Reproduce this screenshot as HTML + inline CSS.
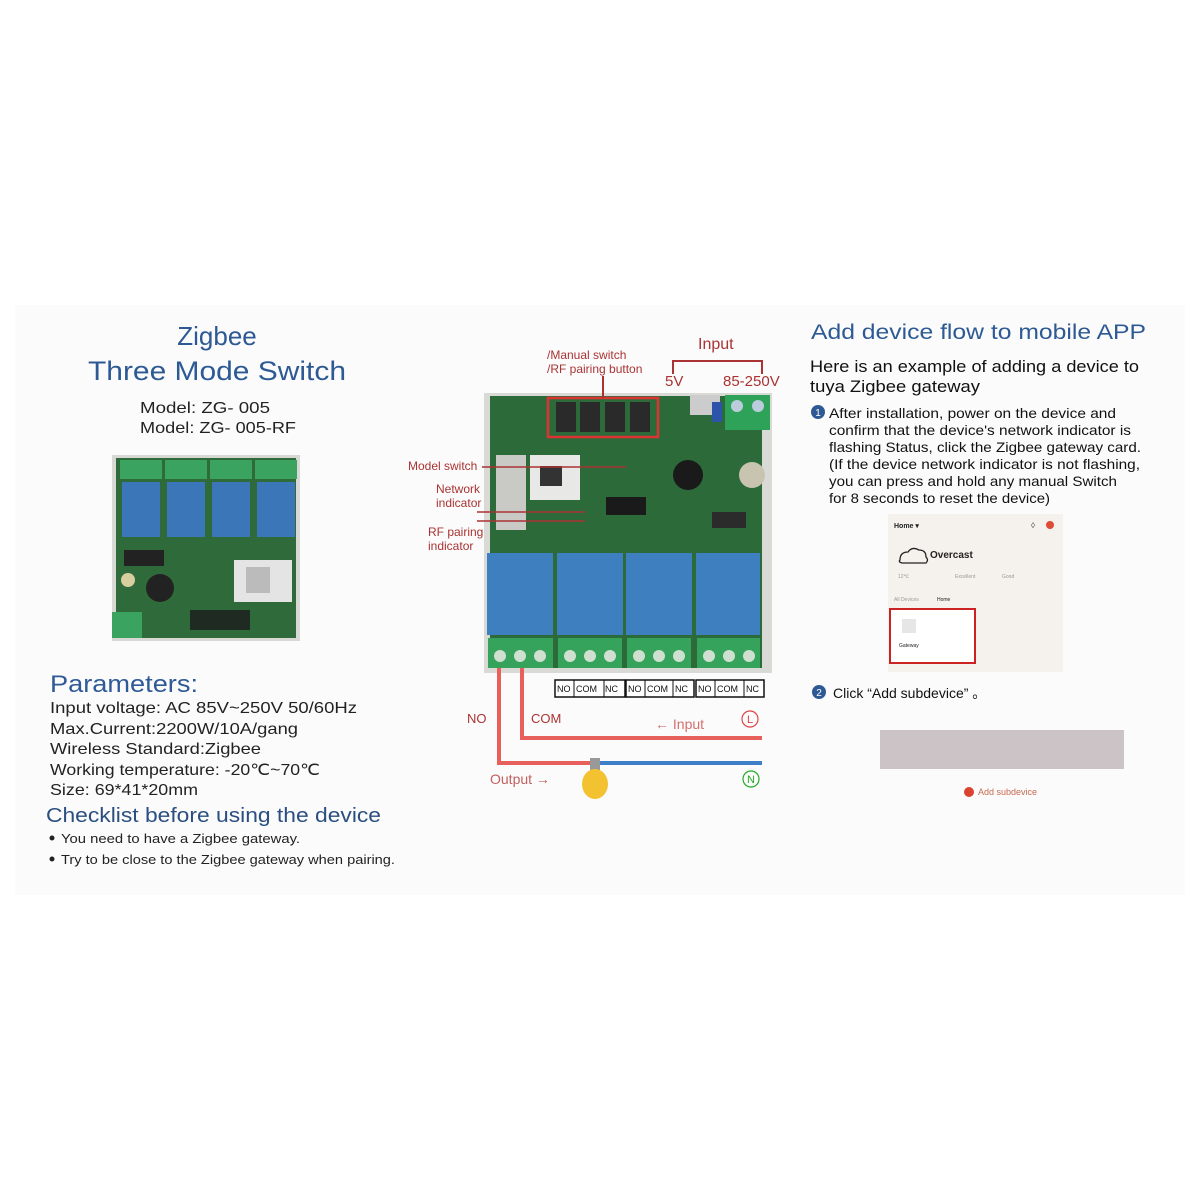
<!DOCTYPE html>
<html><head><meta charset="utf-8"><style>
html,body{margin:0;padding:0;background:#fff}
svg{display:block}
text{font-family:"Liberation Sans",sans-serif}
</style></head><body>
<svg width="1200" height="1200" viewBox="0 0 1200 1200" xmlns="http://www.w3.org/2000/svg">
<rect width="1200" height="1200" fill="#fff"/>
<rect x="15" y="305" width="1170" height="590" fill="#fbfbfb"/>

<!-- LEFT TEXT -->
<g fill="#2d5a94">
<text x="217" y="345" font-size="26" text-anchor="middle">Zigbee</text>
<text x="88" y="380" font-size="27" textLength="258" lengthAdjust="spacingAndGlyphs">Three Mode Switch</text>
</g>
<g fill="#222" font-size="16">
<text x="140" y="413" textLength="130" lengthAdjust="spacingAndGlyphs">Model:  ZG- 005</text>
<text x="140" y="433" textLength="156" lengthAdjust="spacingAndGlyphs">Model:  ZG- 005-RF</text>
</g>

<!-- small board -->
<g>
<rect x="112" y="455" width="188" height="186" fill="#d8d8d4"/>
<rect x="116" y="458" width="180" height="180" fill="#2f6b3a"/>
<g fill="#3aa360">
<rect x="120" y="460" width="42" height="19"/><rect x="165" y="460" width="42" height="19"/><rect x="210" y="460" width="42" height="19"/><rect x="255" y="460" width="42" height="19"/>
</g>
<g fill="#3b77b8">
<rect x="122" y="482" width="38" height="55"/><rect x="167" y="482" width="38" height="55"/><rect x="212" y="482" width="38" height="55"/><rect x="257" y="482" width="38" height="55"/>
</g>
<rect x="234" y="560" width="58" height="42" fill="#e4e4e4"/>
<rect x="246" y="567" width="24" height="26" fill="#bbb"/>
<circle cx="160" cy="588" r="14" fill="#222"/>
<rect x="124" y="550" width="40" height="16" fill="#222"/>
<rect x="112" y="612" width="30" height="26" fill="#3aa360"/>
<rect x="190" y="610" width="60" height="20" fill="#1f2a22"/>
<circle cx="128" cy="580" r="7" fill="#d8cfa0"/>
</g>

<g fill="#2f5a97"><text x="50" y="692" font-size="24" textLength="148" lengthAdjust="spacingAndGlyphs">Parameters:</text></g>
<g fill="#222" font-size="16">
<text x="50" y="713" textLength="307" lengthAdjust="spacingAndGlyphs">Input voltage:  AC 85V~250V  50/60Hz</text>
<text x="50" y="734" textLength="248" lengthAdjust="spacingAndGlyphs">Max.Current:2200W/10A/gang</text>
<text x="50" y="754" textLength="211" lengthAdjust="spacingAndGlyphs">Wireless Standard:Zigbee</text>
<text x="50" y="775" textLength="270" lengthAdjust="spacingAndGlyphs">Working temperature: -20℃~70℃</text>
<text x="50" y="795" textLength="148" lengthAdjust="spacingAndGlyphs">Size: 69*41*20mm</text>
</g>
<text x="46" y="822" font-size="20" fill="#2b4f80" textLength="335" lengthAdjust="spacingAndGlyphs">Checklist before using the device</text>
<g fill="#222" font-size="13">
<circle cx="52" cy="838" r="2.5"/><circle cx="52" cy="859" r="2.5"/>
<text x="61" y="843" textLength="239" lengthAdjust="spacingAndGlyphs">You need to have a Zigbee gateway.</text>
<text x="61" y="864" textLength="334" lengthAdjust="spacingAndGlyphs">Try to be close to the Zigbee gateway when pairing.</text>
</g>

<!-- CENTER BOARD -->
<g>
<rect x="484" y="393" width="288" height="280" fill="#d9d9d6"/>
<rect x="490" y="396" width="272" height="272" fill="#2d6a3a"/>
<rect x="496" y="455" width="30" height="75" fill="#c9c9c6"/>
<rect x="530" y="455" width="50" height="45" fill="#e8e8e6"/>
<rect x="540" y="466" width="22" height="20" fill="#333"/>
<rect x="725" y="395" width="45" height="35" fill="#2fa25a"/>
<circle cx="737" cy="406" r="6" fill="#bcd"/><circle cx="758" cy="406" r="6" fill="#bcd"/>
<rect x="690" y="395" width="30" height="20" fill="#ccc"/>
<rect x="712" y="402" width="10" height="20" fill="#2c54a8"/>
<circle cx="688" cy="475" r="15" fill="#1a1a1a"/>
<circle cx="752" cy="475" r="13" fill="#c8c4b0"/>
<rect x="606" y="497" width="40" height="18" fill="#1a1a1a"/>
<rect x="712" y="512" width="34" height="16" fill="#2b2b2b"/>
<g fill="#2a2a2a"><rect x="556" y="402" width="20" height="30"/><rect x="580" y="402" width="20" height="30"/><rect x="605" y="402" width="20" height="30"/><rect x="630" y="402" width="20" height="30"/></g>
<g fill="#3d7fbf">
<rect x="487" y="553" width="66" height="82"/><rect x="557" y="553" width="66" height="82"/><rect x="626" y="553" width="66" height="82"/><rect x="696" y="553" width="64" height="82"/>
</g>
<g fill="#36a35c">
<rect x="488" y="638" width="65" height="30"/><rect x="558" y="638" width="64" height="30"/><rect x="627" y="638" width="64" height="30"/><rect x="697" y="638" width="63" height="30"/>
</g>
<g fill="#cfe0d0">
<circle cx="500" cy="656" r="6"/><circle cx="520" cy="656" r="6"/><circle cx="540" cy="656" r="6"/>
<circle cx="570" cy="656" r="6"/><circle cx="590" cy="656" r="6"/><circle cx="610" cy="656" r="6"/>
<circle cx="639" cy="656" r="6"/><circle cx="659" cy="656" r="6"/><circle cx="679" cy="656" r="6"/>
<circle cx="709" cy="656" r="6"/><circle cx="729" cy="656" r="6"/><circle cx="749" cy="656" r="6"/>
</g>
<rect x="548" y="398" width="110" height="39" fill="none" stroke="#d33" stroke-width="2.5"/>
</g>

<!-- NO/COM/NC labels -->
<g font-size="9" fill="#111" stroke="#111">
<rect x="555" y="680" width="70" height="17" fill="#fff" stroke-width="1.5"/>
<rect x="626" y="680" width="68" height="17" fill="#fff" stroke-width="1.5"/>
<rect x="696" y="680" width="68" height="17" fill="#fff" stroke-width="1.5"/>
<line x1="574" y1="680" x2="574" y2="697"/><line x1="604" y1="680" x2="604" y2="697"/>
<line x1="645" y1="680" x2="645" y2="697"/><line x1="673" y1="680" x2="673" y2="697"/>
<line x1="715" y1="680" x2="715" y2="697"/><line x1="744" y1="680" x2="744" y2="697"/>
<g stroke="none">
<text x="557" y="692">NO</text><text x="576" y="692">COM</text><text x="605" y="692">NC</text>
<text x="628" y="692">NO</text><text x="647" y="692">COM</text><text x="675" y="692">NC</text>
<text x="698" y="692">NO</text><text x="717" y="692">COM</text><text x="746" y="692">NC</text>
</g>
</g>

<!-- wires -->
<polyline points="499,668 499,763 592,763" fill="none" stroke="#e8605c" stroke-width="4"/>
<polyline points="522,668 522,738 762,738" fill="none" stroke="#e8605c" stroke-width="4"/>
<line x1="598" y1="763" x2="762" y2="763" stroke="#3d7fc8" stroke-width="4"/>
<rect x="590" y="758" width="10" height="12" fill="#999"/>
<ellipse cx="595" cy="784" rx="13" ry="15" fill="#f2c230"/>

<!-- center labels -->
<g fill="#a33" font-size="12">
<text x="547" y="359">/Manual switch</text>
<text x="547" y="373">/RF pairing button</text>
<text x="408" y="470">Model switch</text>
<text x="436" y="493">Network</text>
<text x="436" y="507">indicator</text>
<text x="428" y="536">RF pairing</text>
<text x="428" y="550">indicator</text>
</g>
<line x1="603" y1="376" x2="603" y2="398" stroke="#a33" stroke-width="2"/>
<line x1="482" y1="467" x2="626" y2="467" stroke="#a33" stroke-width="1.5"/>
<line x1="477" y1="512" x2="585" y2="512" stroke="#a33" stroke-width="1.5"/>
<line x1="477" y1="521" x2="585" y2="521" stroke="#a33" stroke-width="1.5"/>
<polyline points="673,374 673,361 762,361 762,374" fill="none" stroke="#a33" stroke-width="2"/>
<text x="698" y="349" font-size="16" fill="#a33">Input</text>
<text x="665" y="386" font-size="15" fill="#a33">5V</text>
<text x="723" y="386" font-size="15" fill="#a33">85-250V</text>
<text x="467" y="723" font-size="13" fill="#a33">NO</text>
<text x="531" y="723" font-size="13" fill="#a33">COM</text>
<text x="655" y="729" font-size="14" fill="#d47070">←  Input</text>
<circle cx="750" cy="719" r="8" fill="none" stroke="#d44" stroke-width="1.2"/>
<text x="750" y="723" font-size="11" fill="#d44" text-anchor="middle">L</text>
<text x="490" y="784" font-size="14" fill="#c06060">Output  →</text>
<circle cx="751" cy="779" r="8" fill="none" stroke="#2a2" stroke-width="1.2"/>
<text x="751" y="783" font-size="11" fill="#2a2" text-anchor="middle">N</text>

<!-- RIGHT -->
<text x="811" y="339" font-size="21" fill="#2d5a94" textLength="335" lengthAdjust="spacingAndGlyphs">Add device flow to mobile APP</text>
<g fill="#111" font-size="17">
<text x="810" y="372" textLength="329" lengthAdjust="spacingAndGlyphs">Here is an example of adding a device to</text>
<text x="810" y="392" textLength="170" lengthAdjust="spacingAndGlyphs">tuya Zigbee gateway</text>
</g>
<circle cx="818" cy="412" r="7" fill="#2d5a94"/>
<text x="818" y="416" font-size="10" fill="#fff" text-anchor="middle">1</text>
<g fill="#111" font-size="14">
<text x="829" y="418" textLength="287" lengthAdjust="spacingAndGlyphs">After installation, power on the device and</text>
<text x="829" y="435" textLength="302" lengthAdjust="spacingAndGlyphs">confirm that the device's network indicator is</text>
<text x="829" y="452" textLength="312" lengthAdjust="spacingAndGlyphs">flashing Status, click the Zigbee gateway card.</text>
<text x="829" y="469" textLength="311" lengthAdjust="spacingAndGlyphs">(If the device network indicator is not flashing,</text>
<text x="829" y="486" textLength="288" lengthAdjust="spacingAndGlyphs">you can press and hold any manual Switch</text>
<text x="829" y="503" textLength="221" lengthAdjust="spacingAndGlyphs">for 8 seconds to reset the device)</text>
</g>
<!-- phone -->
<rect x="888" y="514" width="175" height="158" fill="#f5f2ed"/>
<text x="894" y="528" font-size="7" fill="#222" font-weight="bold">Home ▾</text>
<circle cx="1050" cy="525" r="4" fill="#e04b35"/>
<text x="1031" y="528" font-size="8" fill="#444">◊</text>
<path d="M900 560 q0-8 8-8 q4-6 11 -2 q7 0 7 7 q3 3 0 6 h-24 q-4 -1 -2 -3z" fill="none" stroke="#222" stroke-width="1.3"/>
<text x="930" y="558" font-size="10" fill="#222" font-weight="bold">Overcast</text>
<g fill="#999" font-size="5"><text x="898" y="578">12℃</text><text x="955" y="578">Excellent</text><text x="1002" y="578">Good</text>
<text x="894" y="601">All Devices</text></g>
<text x="937" y="601" font-size="5" fill="#222">Home</text>
<rect x="890" y="609" width="85" height="54" fill="#fff" stroke="#c22" stroke-width="2"/>
<rect x="902" y="619" width="14" height="14" fill="#e6e6e6"/>
<text x="899" y="647" font-size="5" fill="#222">Gateway</text>
<circle cx="819" cy="692" r="7" fill="#2d5a94"/>
<text x="819" y="696" font-size="10" fill="#fff" text-anchor="middle">2</text>
<text x="833" y="698" font-size="14" fill="#111">Click  “Add subdevice” 。</text>
<rect x="880" y="730" width="244" height="39" fill="#cbc3c6"/>
<circle cx="969" cy="792" r="5" fill="#d9432f"/>
<text x="978" y="795" font-size="9" fill="#c86a50">Add subdevice</text>
</svg>
</body></html>
